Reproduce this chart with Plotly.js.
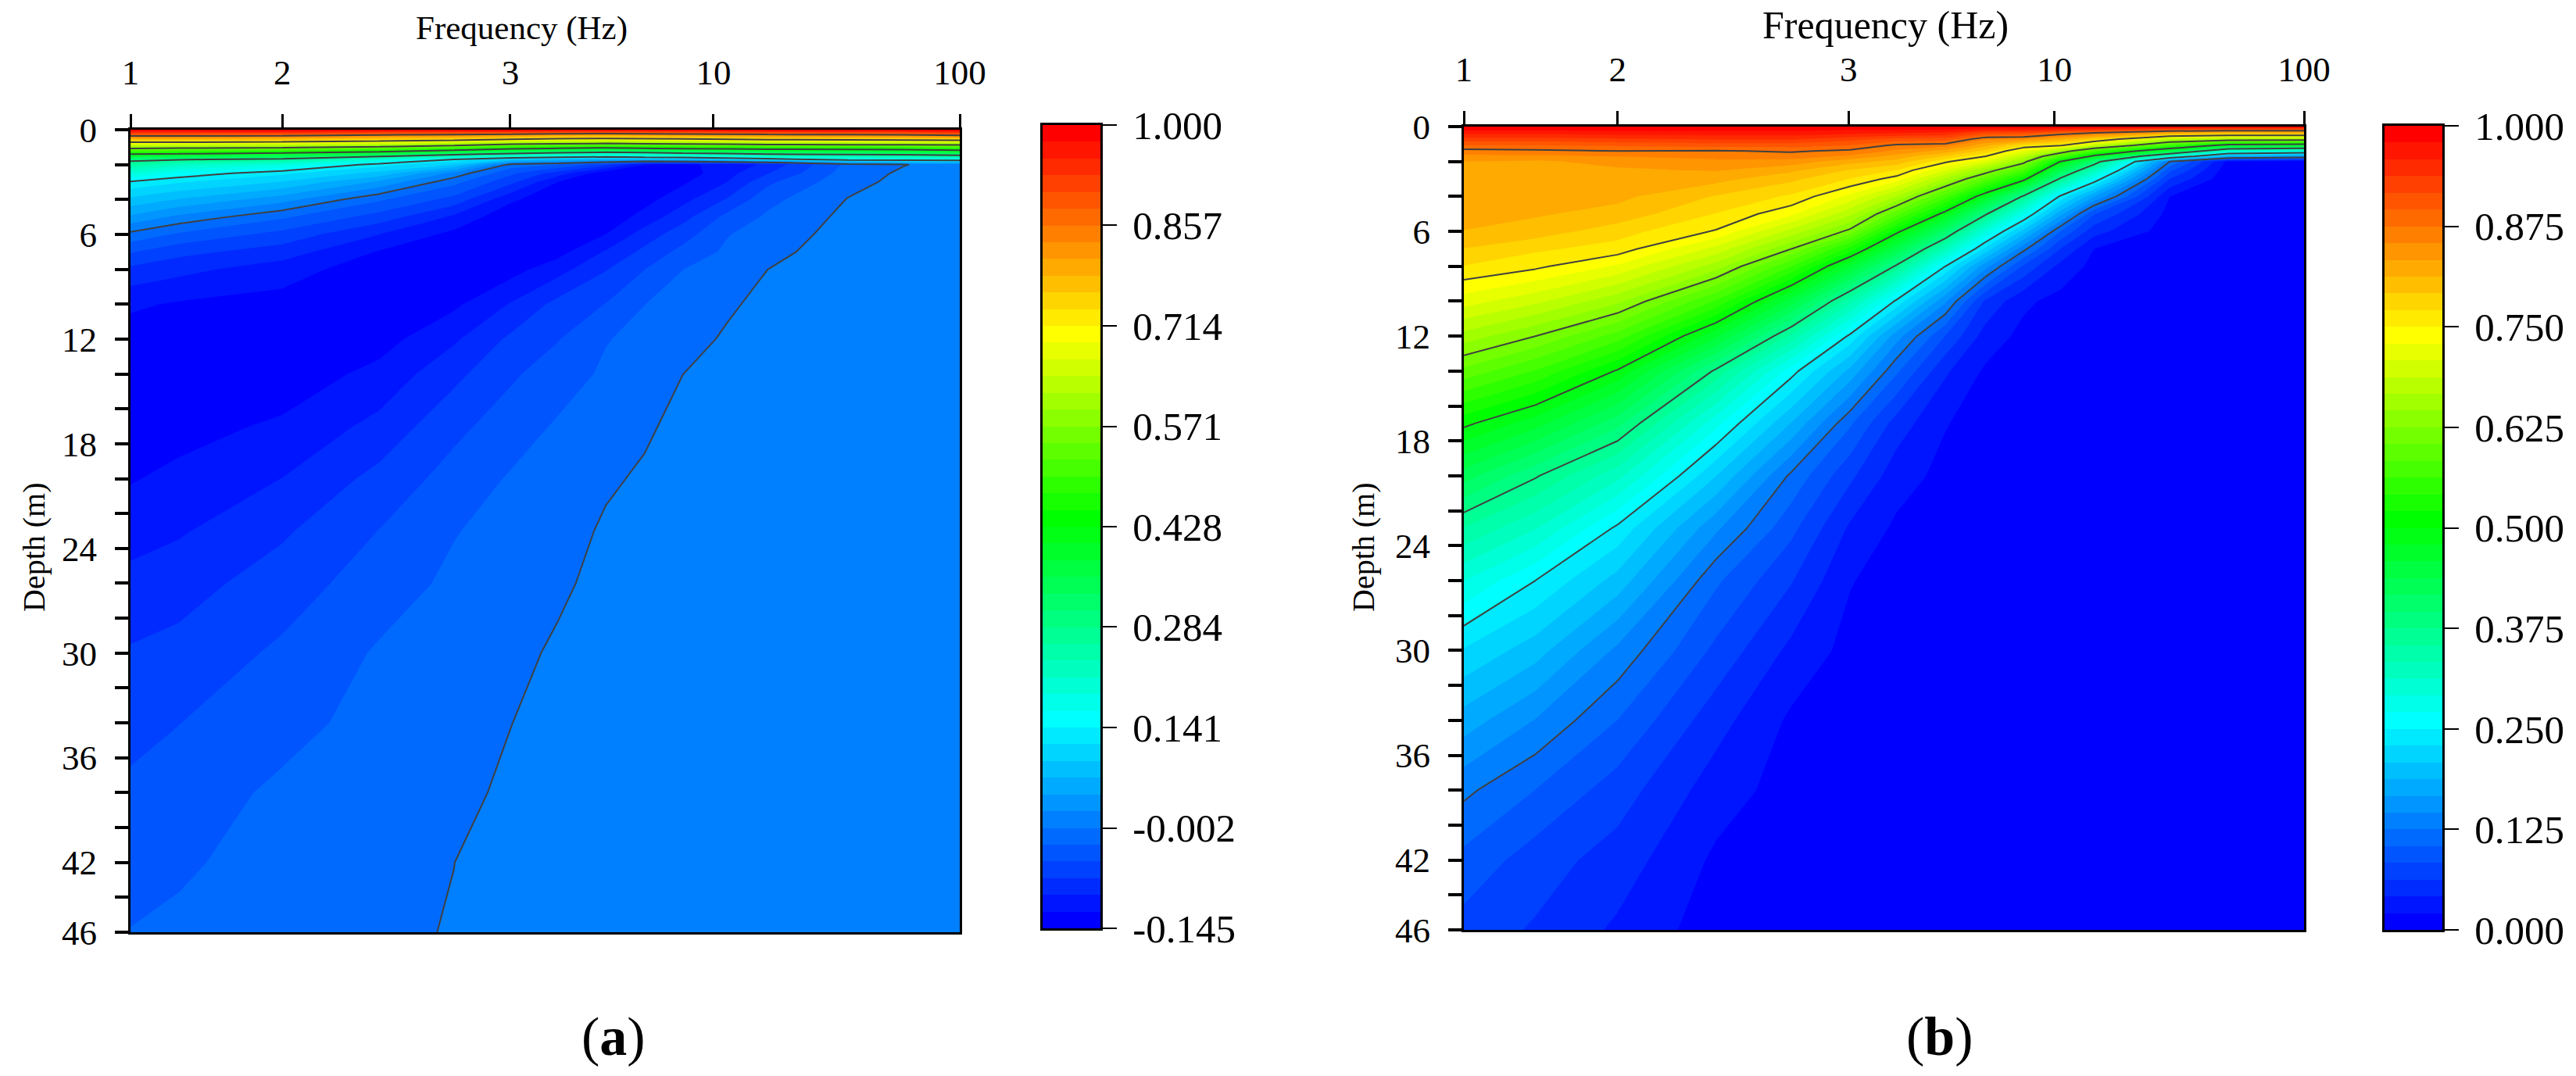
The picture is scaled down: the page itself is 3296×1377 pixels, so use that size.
<!DOCTYPE html>
<html><head><meta charset="utf-8">
<script src="https://cdn.plot.ly/plotly-3.0.1.min.js"></script>
<style>html,body{margin:0;padding:0;background:#fff}</style></head>
<body><div id="chart" style="width:3296px;height:1377px"></div>
<script>
// Depths (m) of the grid rows, shared by both panels
const depths = [0,.18,.36,.72,1.07,1.4,1.7,2,2.5,3,4,5,6,7,8,10,12,14,17,20,23,26,30,34,38,42,46];
const freqTickPos = [0,.183,.458,.703,1];
const freqTickText = ['1','2','3','10','100'];
const depthTicks = [0,2,4,6,8,10,12,14,16,18,20,22,24,26,28,30,32,34,36,38,40,42,44,46];
const depthTickText = ['0','','','6','','','12','','','18','','','24','','','30','','','36','','','42','','46'];

// Panel (a): columns of values read along depth, at axis positions aCols
const aCols = [0,.0585,.183,.3,.39,.46,.515,.573,.62,.666,.72,.768,.865,.932,1];
const a0 = [1,.93,.857,.714,.571,.428,.30,.256,.195,.137,.087,.041,-.009,-.047,-.079,-.117,-.133,-.14,-.134,-.123,-.107,-.09,-.071,-.057,-.045,-.035,-.025];
const a1 = [1,.93,.857,.714,.563,.42,.29,.22,.16,.12,.068,.016,-.03,-.066,-.09,-.124,-.136,-.14,-.13,-.115,-.1,-.083,-.066,-.05,-.038,-.03,-.02];
const a2 = [1,.93,.852,.705,.552,.395,.27,.19,.123,.092,.032,-.022,-.058,-.085,-.11,-.13,-.14,-.136,-.117,-.097,-.077,-.062,-.045,-.034,-.021,-.014,-.008];
const a3 = [1,.91,.83,.685,.53,.355,.2,.128,.085,.041,-.022,-.06,-.097,-.123,-.135,-.14,-.131,-.114,-.09,-.066,-.049,-.037,-.023,-.017,-.012,-.008,-.005];
const a4 = [1,.9,.82,.66,.49,.3,.141,.093,.014,-.018,-.058,-.102,-.128,-.14,-.14,-.126,-.101,-.08,-.056,-.04,-.027,-.021,-.016,-.012,-.0073,-.002,-.001];
const a5 = [1,.9,.805,.63,.445,.265,.093,-.012,-.045,-.068,-.117,-.14,-.14,-.138,-.13,-.095,-.068,-.053,-.037,-.023,-.017,-.012,-.007,-.002,.002,.005,.008];
const a5b = [1,.89,.79,.615,.425,.24,.075,-.026,-.085,-.121,-.14,-.145,-.14,-.13,-.107,-.066,-.051,-.037,-.023,-.017,-.011,-.0055,.001,.004,.006,.008,.01];
const a6 = [1,.88,.785,.61,.41,.22,.07,-.065,-.14,-.145,-.145,-.138,-.121,-.095,-.075,-.049,-.027,-.022,-.013,-.005,.001,.004,.007,.009,.01,.011,.012];
const a6b = [1,.885,.79,.615,.425,.235,.075,-.12,-.14,-.14,-.13,-.112,-.086,-.067,-.05,-.026,-.019,-.013,-.005,.001,.004,.006,.008,.01,.011,.012,.012];
const a7 = [1,.89,.795,.62,.435,.25,.08,-.125,-.135,-.125,-.105,-.082,-.06,-.042,-.026,-.018,-.01,-.002,.004,.007,.009,.01,.011,.012,.012,.013,.013];
const a7b = [1,.895,.805,.63,.445,.265,.1,-.115,-.105,-.097,-.071,-.042,-.027,-.021,-.015,-.005,.001,.005,.009,.011,.012,.013,.013,.013,.014,.014,.014];
const a8 = [1,.9,.815,.64,.455,.284,.12,-.09,-.075,-.055,-.033,-.022,-.014,-.008,-.002,.004,.008,.01,.012,.013,.013,.014,.014,.014,.014,.015,.015];
const a9 = [1,.9,.825,.645,.455,.295,.16,-.02,-.014,-.009,-.001,.004,.007,.009,.01,.012,.013,.013,.014,.014,.014,.014,.015,.015,.015,.015,.015];
const a10 = [1,.9,.83,.65,.46,.3,.165,-.003,.002,.004,.006,.008,.009,.01,.011,.012,.013,.013,.014,.014,.014,.015,.015,.015,.015,.015,.015];
const a11 = [1,.92,.84,.65,.475,.32,.17,.008,.01,.01,.011,.012,.012,.012,.013,.013,.013,.014,.014,.014,.014,.015,.015,.015,.015,.015,.015];

// Panel (b)
const bCols = [0,.085,.183,.3,.39,.46,.515,.573,.62,.666,.71,.75,.84,.91,1];
const b0 = [1,.982,.965,.93,.895,.866,.848,.833,.83,.828,.823,.818,.812,.791,.77,.718,.658,.598,.506,.426,.353,.292,.227,.178,.13,.098,.075];
const b1 = [1,.982,.965,.93,.895,.87,.85,.83,.828,.825,.82,.815,.803,.775,.755,.693,.625,.561,.467,.378,.314,.25,.197,.145,.104,.073,.06];
const b2 = [1,.985,.97,.935,.9,.875,.855,.84,.83,.825,.818,.805,.78,.762,.726,.651,.574,.497,.403,.319,.245,.2,.141,.104,.073,.053,.038];
const b3 = [1,.985,.97,.94,.905,.873,.86,.85,.835,.82,.79,.77,.748,.702,.657,.56,.463,.37,.278,.209,.15,.108,.078,.05,.031,.017,.01];
const b4 = [1,.985,.97,.94,.905,.878,.865,.845,.817,.797,.767,.734,.68,.625,.562,.448,.348,.259,.186,.12,.089,.064,.036,.017,.012,.008,.005];
const b5 = [1,.98,.965,.925,.895,.87,.85,.82,.79,.77,.723,.672,.617,.533,.46,.34,.244,.181,.107,.067,.038,.022,.014,.01,.007,.005,.004];
const b5b = [1,.98,.96,.91,.87,.85,.825,.805,.77,.74,.665,.59,.508,.44,.37,.245,.155,.108,.053,.03,.017,.012,.009,.007,.005,.004,.003];
const b6 = [1,.977,.954,.908,.864,.826,.79,.755,.71,.663,.573,.488,.407,.328,.25,.15,.083,.045,.022,.015,.011,.008,.006,.005,.004,.003,.002];
const b6b = [1,.96,.92,.858,.82,.786,.752,.715,.645,.59,.48,.382,.295,.225,.155,.06,.033,.018,.012,.009,.007,.005,.004,.003,.003,.002,.002];
const b7 = [1,.96,.918,.85,.77,.72,.68,.638,.575,.512,.37,.278,.201,.132,.08,.025,.015,.01,.007,.005,.004,.003,.003,.002,.002,.001,.001];
const b7b = [1,.95,.893,.82,.755,.655,.575,.5,.435,.368,.245,.175,.104,.0625,.035,.014,.01,.008,.006,.004,.003,.003,.002,.002,.002,.001,.001];
const b8 = [1,.94,.875,.785,.69,.565,.49,.4,.328,.268,.168,.085,.05,.021,.015,.01,.007,.005,.004,.003,.003,.002,.002,.002,.001,.001,.001];
const b9 = [1,.91,.83,.68,.565,.45,.3,.125,.09,.0625,.021,.014,.01,.008,.007,.005,.004,.003,.003,.002,.002,.002,.002,.001,.001,.001,.001];
const b10 = [1,.9,.81,.66,.48,.315,.183,.015,.008,.005,.004,.003,.003,.002,.002,.002,.002,.002,.002,.001,.001,.001,.001,.001,.001,.001,.001];
const b11 = [1,.9,.815,.655,.465,.295,.16,.005,.003,.002,.002,.002,.002,.002,.002,.001,.001,.001,.001,.001,.001,.001,.001,.001,.001,.001,.001];

const aColumns = [a0,a1,a2,a3,a4,a5,a5b,a6,a6b,a7,a7b,a8,a9,a10,a11];
const bColumns = [b0,b1,b2,b3,b4,b5,b5b,b6,b6b,b7,b7b,b8,b9,b10,b11];
const rowsOf = cols => depths.map((_, r) => cols.map(c => c[r]));

const barTicksA = [-0.145,-0.0019,0.1413,0.2844,0.4275,0.5706,0.7138,0.8569,1];
const barTextA = ['-0.145','-0.002','0.141','0.284','0.428','0.571','0.714','0.857','1.000'];
const barTicksB = [0,.125,.25,.375,.5,.625,.75,.875,1];
const barTextB = ['0.000','0.125','0.250','0.375','0.500','0.625','0.750','0.875','1.000'];

const W = 3296, H = 1377, bands = 48;
const serif = '"Liberation Serif","Times New Roman",serif';
const scale = [[0,'#0000ff'],[1/49,'#0000ff'],[13/49,'#00ffff'],[25/49,'#00ff00'],[36/49,'#ffff00'],[48/49,'#ff0000'],[1,'#ff0000']];
const barScale = [[0,'#0000ff'],[12/47,'#00ffff'],[24/47,'#00ff00'],[35/47,'#ffff00'],[1,'#ff0000']];

function panel(cols, columns, lo, ticks, xa, ya, xb, yb) {
  const step = (1 - lo) / bands, z = rowsOf(columns);
  const bandIdx = Array.from({length:bands}, (_, k) => k);
  return [{
    type:'contour', x:cols, y:depths, z, xaxis:xa, yaxis:ya, colorscale:scale, autocontour:false, showscale:false,
    contours:{start:lo, end:1+1e-9, size:step, coloring:'fill', showlines:false},
    line:{width:0, smoothing:0}, hoverinfo:'skip'
  },{
    type:'contour', x:cols, y:depths, z, xaxis:xa, yaxis:ya, showscale:false, autocontour:false,
    contours:{start:ticks[1], end:ticks[7]+1e-6, size:(ticks[8]-ticks[0])/8, coloring:'none'},
    line:{color:'#404040', width:2, smoothing:0}, hoverinfo:'skip'
  },{
    // the colour key: one cell per band, on its own value axis
    type:'heatmap', x:[0], y:bandIdx.map(k => lo + (k + .5) * step), z:bandIdx.map(k => [k]),
    zmin:0, zmax:bands-1, colorscale:barScale, showscale:false, xaxis:xb, yaxis:yb, zsmooth:false, hoverinfo:'skip'
  }];
}

const xAxis = (l,r,anchor) => ({domain:[l/W,r/W], range:[0,1], side:'top', anchor, tickmode:'array',
  tickvals:freqTickPos, ticktext:freqTickText, ticks:'outside', ticklen:17, tickwidth:3, tickcolor:'#000',
  showline:true, linewidth:3, linecolor:'#000', mirror:true, showgrid:false, zeroline:false, ticklabelstandoff:20,
  tickfont:{family:serif,size:45,color:'#000'}});
const yAxis = (t,b,anchor) => ({domain:[1-b/H,1-t/H], range:[46,0], anchor, tickmode:'array',
  tickvals:depthTicks, ticktext:depthTickText, ticks:'outside', ticklen:17, tickwidth:4, tickcolor:'#000',
  showline:true, linewidth:3, linecolor:'#000', mirror:true, showgrid:false, zeroline:false, ticklabelstandoff:14,
  tickfont:{family:serif,size:45,color:'#000'}});
const barX = (l,r,anchor) => ({domain:[l/W,r/W], range:[-.5,.5], anchor, showticklabels:false, ticks:'', showgrid:false, zeroline:false,
  showline:true, linewidth:3, linecolor:'#000', mirror:true});
const barY = (t,b,anchor,lo,vals,text) => ({domain:[1-b/H,1-t/H], range:[lo,1], anchor, side:'right', tickmode:'array',
  tickvals:vals, ticktext:text, ticks:'outside', ticklen:18, tickwidth:2, tickcolor:'#000', showgrid:false, zeroline:false,
  showline:true, linewidth:3, linecolor:'#000', mirror:true, ticklabelstandoff:10, tickfont:{family:serif,size:51,color:'#000'}});
const note = (text,x,y,size,angle) => ({text, xref:'paper', yref:'paper', x:x/W, y:1-y/H, xanchor:'center', yanchor:'middle',
  showarrow:false, textangle:angle||0, font:{family:serif,size,color:'#000'}});

Plotly.newPlot('chart', [
  ...panel(aCols,aColumns,-0.145,barTicksA,'x','y','x3','y3'),
  ...panel(bCols,bColumns,0,barTicksB,'x2','y2','x4','y4')
], {
  width:W, height:H, margin:{l:0,r:0,t:0,b:0}, paper_bgcolor:'#fff', plot_bgcolor:'#fff', showlegend:false,
  xaxis:xAxis(167,1228,'y'), yaxis:yAxis(166,1193,'x'),
  xaxis2:xAxis(1873,2948,'y2'), yaxis2:yAxis(162,1190,'x2'),
  xaxis3:barX(1334,1408,'y3'), yaxis3:barY(160,1188,'x3',-0.145,barTicksA,barTextA),
  xaxis4:barX(3051,3125,'y4'), yaxis4:barY(161,1190,'x4',0,barTicksB,barTextB),
  annotations:[
    note('Frequency (Hz)',667,36,43), note('Frequency (Hz)',2412,32,50),
    note('Depth (m)',44,700,40,-90), note('Depth (m)',1745,700,40,-90),
    note('(<b>a</b>)',785,1326,70), note('(<b>b</b>)',2482,1326,70)
  ]
}, {displayModeBar:false, staticPlot:true});
</script></body></html>
